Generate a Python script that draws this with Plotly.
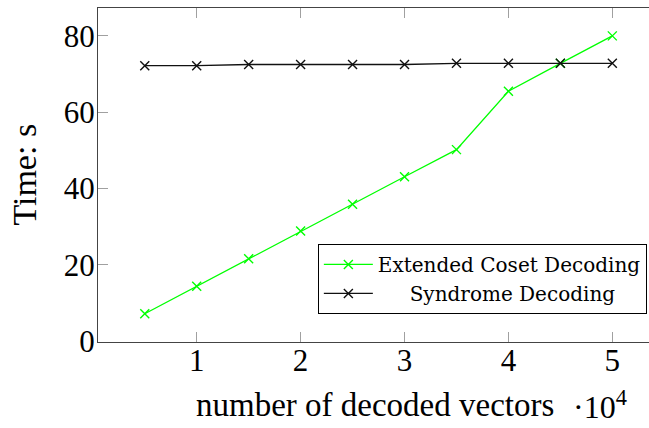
import plotly.graph_objects as go

x_vals = [0.5, 1.0, 1.5, 2.0, 2.5, 3.0, 3.5, 4.0, 4.5, 5.0]
coset_times = [7.2, 14.4, 21.6, 28.9, 35.9, 43.1, 50.2, 65.5, 72.8, 80.0]
syndrome_times = [72.2, 72.2, 72.5, 72.5, 72.5, 72.5, 72.8, 72.8, 72.8, 72.8]
x_ticks = [1, 2, 3, 4, 5]
x_tick_labels = ["1", "2", "3", "4", "5"]
y_ticks = [0, 20, 40, 60, 80]
y_tick_labels = ["0", "20", "40", "60", "80"]

SERIF = "Liberation Serif"

fig = go.Figure()
fig.add_trace(go.Scatter(
    x=x_vals, y=coset_times, mode="lines+markers",
    name="Extended Coset Decoding",
    line=dict(color="#00ff00", width=1.3),
    marker=dict(symbol="x-thin", size=9, line=dict(color="#00ff00", width=1.4)),
))
fig.add_trace(go.Scatter(
    x=x_vals, y=syndrome_times, mode="lines+markers",
    name="\u00a0\u00a0\u00a0\u00a0\u00a0Syndrome Decoding",
    line=dict(color="#111111", width=1.3),
    marker=dict(symbol="x-thin", size=9, line=dict(color="#111111", width=1.4)),
))

fig.update_layout(
    width=649, height=428,
    margin=dict(l=98, r=0, t=8, b=86, autoexpand=False),
    paper_bgcolor="white", plot_bgcolor="white",
    font=dict(family=SERIF, color="black"),
    showlegend=True,
    legend=dict(
        x=0.399, y=0.084, xanchor="left", yanchor="bottom",
        bgcolor="white", bordercolor="black", borderwidth=1,
        font=dict(family="DejaVu Serif", size=20, color="black"),
        itemwidth=49, tracegroupgap=0,
    ),
    xaxis=dict(
        range=[0.05, 5.353], tickvals=x_ticks, ticktext=x_tick_labels,
        ticks="inside", ticklen=10, tickcolor="#a0a0a0", tickwidth=1,
        showline=True, linecolor="#444444", linewidth=1.2, mirror="ticks",
        showgrid=False, zeroline=False,
        tickfont=dict(family=SERIF, size=31, color="black"),
        ticklabelstandoff=-9,
    ),
    yaxis=dict(
        range=[-0.2, 87.3], tickvals=y_ticks, ticktext=y_tick_labels,
        ticks="inside", ticklen=10, tickcolor="#a0a0a0", tickwidth=1,
        showline=True, linecolor="#444444", linewidth=1.2,
        showgrid=False, zeroline=False,
        tickfont=dict(family=SERIF, size=31, color="black"),
        ticklabelstandoff=-4,
    ),
    annotations=[
        dict(text="number of decoded vectors", x=2.72, xref="x",
             y=-0.19, yref="paper", xanchor="center", yanchor="middle",
             showarrow=False, font=dict(family=SERIF, size=33, color="black")),
        dict(text="·10<sup>4</sup>", x=4.88, xref="x",
             y=-0.19, yref="paper", xanchor="center", yanchor="middle",
             showarrow=False, font=dict(family=SERIF, size=32, color="black")),
        dict(text="Time: s", textangle=-90, x=-0.135, xref="paper",
             y=0.5, yref="paper", xanchor="center", yanchor="middle",
             showarrow=False, font=dict(family=SERIF, size=34, color="black")),
    ],
)

fig.write_html("out.html")
